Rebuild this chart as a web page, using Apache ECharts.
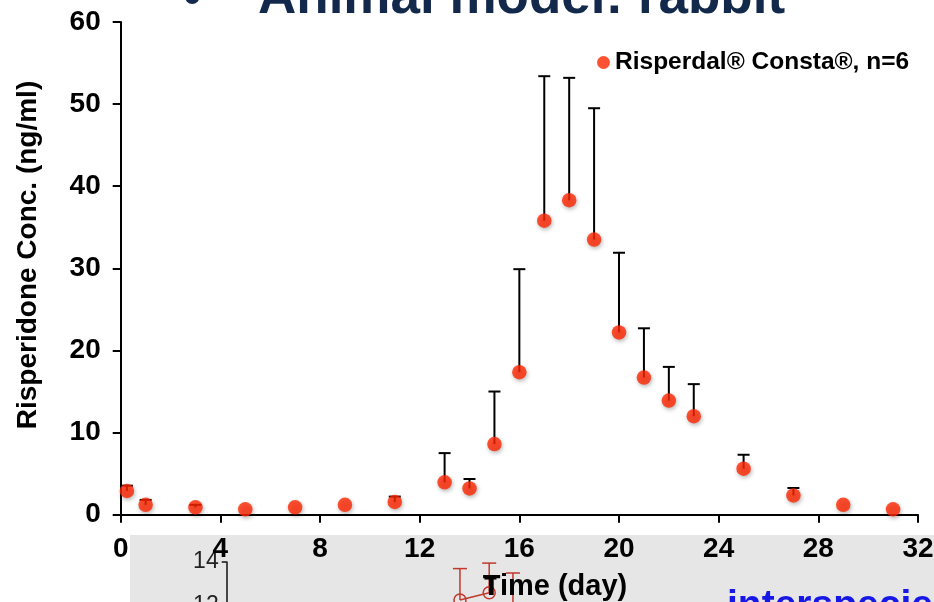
<!DOCTYPE html>
<html><head><meta charset="utf-8">
<script src="https://cdn.jsdelivr.net/npm/echarts@6/dist/echarts.min.js"></script>
<style>html,body{margin:0;padding:0;background:#fff}#c{width:934px;height:602px}</style>
</head><body><div id="c"></div>
<script>
// Main chart data: Risperdal Consta, rabbit, n=6
const seriesName = 'Risperdal® Consta®, n=6';
const days     = [0.25, 1, 3, 5, 7, 9, 11, 13, 14, 15, 16, 17, 18, 19, 20, 21, 22, 23, 25, 27, 29, 31];
const meanConc = [2.9, 1.2, 0.9, 0.65, 0.9, 1.2, 1.55, 3.95, 3.2, 8.6, 17.35, 35.8, 38.3, 33.5, 22.2, 16.7, 13.9, 12.0, 5.6, 2.35, 1.2, 0.65];
const sdConc   = [0.63, 0.6, 0.3, 0, 0, 0, 0.65, 3.55, 1.15, 6.4, 12.55, 17.6, 14.9, 16.0, 9.7, 6.0, 4.1, 3.9, 1.7, 0.9, 0, 0];
const xTicks = [0, 4, 8, 12, 16, 20, 24, 28, 32];
const yTicks = [0, 10, 20, 30, 40, 50, 60];

// Fragment of an overlapping inset chart at the bottom
const insetX     = [9.33, 10.5, 11.45];
const insetMean  = [12.27, 12.6, 11.6];
const insetUpper = [13.7, 13.95, 13.5];
const insetBlackX = [10.55];
const insetBlackMean = [12.5];
const insetBlackUpper = [13.27];

const chart = echarts.init(document.getElementById('c'), null, {renderer: 'canvas'});
const FONT = 'Liberation Sans, Arial, Helvetica, sans-serif';

function errItem(color, lw, hw) {
  return function (params, api) {
    const x = api.value(0), m = api.value(1), u = api.value(2);
    if (!(u > m)) return {type: 'group', children: []};
    const p0 = api.coord([x, m]), p1 = api.coord([x, u]);
    return {type: 'group', children: [
      {type: 'line', shape: {x1: p0[0], y1: p0[1], x2: p1[0], y2: p1[1]}, style: {stroke: color, lineWidth: lw}},
      {type: 'line', shape: {x1: p1[0] - hw, y1: p1[1], x2: p1[0] + hw, y2: p1[1]}, style: {stroke: color, lineWidth: lw}}
    ]};
  };
}

const option = {
  animation: false,
  backgroundColor: '#fff',
  textStyle: {fontFamily: FONT},
  grid: [
    {left: 120.7, right: 16, top: 22, bottom: 87.3, containLabel: false, outerBoundsMode: 'none'},
    {left: 226.7, top: 562, width: 700, height: 88, containLabel: false, outerBoundsMode: 'none'}
  ],
  legend: {
    data: [seriesName],
    left: 592, top: 45,
    icon: 'circle', itemWidth: 13, itemHeight: 13,
    textStyle: {fontSize: 24.5, fontWeight: 'bold', color: '#000', fontFamily: FONT}
  },
  xAxis: [
    {
      gridIndex: 0, type: 'value', min: xTicks[0], max: xTicks[xTicks.length - 1], interval: 4,
      axisLine: {onZero: false, lineStyle: {color: '#000', width: 2}},
      axisTick: {length: 8, lineStyle: {color: '#000', width: 2}},
      axisLabel: {fontSize: 28, fontWeight: 'bold', color: '#000', margin: 21, fontFamily: FONT},
      splitLine: {show: false}, z: 3
    },
    {
      gridIndex: 1, type: 'value', min: 0, max: 28, show: false
    }
  ],
  yAxis: [
    {
      gridIndex: 0, type: 'value', min: yTicks[0], max: yTicks[yTicks.length - 1], interval: 10,
      axisLine: {show: true, lineStyle: {color: '#000', width: 2}},
      axisTick: {show: true, length: 8, lineStyle: {color: '#000', width: 2}},
      axisLabel: {fontSize: 28, fontWeight: 'bold', color: '#000', margin: 20, fontFamily: FONT},
      splitLine: {show: false}, z: 3
    },
    {
      gridIndex: 1, type: 'value', min: 10, max: 14, interval: 2,
      axisLine: {show: true, lineStyle: {color: '#111', width: 1.5}},
      axisTick: {show: true, inside: false, length: 5, lineStyle: {color: '#111', width: 1.5}},
      axisLabel: {fontSize: 23, color: '#222', margin: 8, fontFamily: FONT},
      splitLine: {show: false}, z: 1
    }
  ],
  graphic: [
    {type: 'rect', z: -10, shape: {x: 130, y: 535, width: 804, height: 67}, style: {fill: '#e6e6e6'}},
    {type: 'text', z: 10, style: {text: '•', x: 183, y: 26, align: 'left', verticalAlign: 'bottom', fontSize: 53, fontWeight: 'bold', fill: '#13294b', fontFamily: FONT}},
    {type: 'text', z: 10, style: {text: 'Animal model: rabbit', x: 258, y: 25, align: 'left', verticalAlign: 'bottom', fontSize: 53, fontWeight: 'bold', fill: '#13294b', fontFamily: FONT}},
    {type: 'text', z: 10, rotation: Math.PI / 2, x: 28, y: 255, style: {text: 'Risperidone Conc. (ng/ml)', x: 0, y: 0, align: 'center', verticalAlign: 'middle', fontSize: 28, fontWeight: 'bold', fill: '#000', fontFamily: FONT}},
    {type: 'text', z: 10, style: {text: 'Time (day)', x: 555, y: 587, align: 'center', verticalAlign: 'middle', fontSize: 29, fontWeight: 'bold', fill: '#000', fontFamily: FONT}},
    {type: 'text', z: 10, style: {text: 'interspecies', x: 727, y: 587, align: 'left', verticalAlign: 'top', fontSize: 39, fontWeight: 'bold', fill: '#1818e6', fontFamily: FONT}}
  ],
  series: [
    {
      type: 'custom', name: 'sd', xAxisIndex: 0, yAxisIndex: 0, z: 2,
      renderItem: errItem('#000', 2, 6),
      data: days.map((d, i) => [d, meanConc[i], meanConc[i] + sdConc[i]]),
      encode: {x: 0, y: [1, 2]}, clip: false, silent: true
    },
    {
      type: 'scatter', name: seriesName, xAxisIndex: 0, yAxisIndex: 0, z: 4,
      symbol: 'circle', symbolSize: 14.5, clip: false,
      itemStyle: {color: '#ff2600', shadowBlur: 4, shadowColor: 'rgba(0,0,0,0.35)', shadowOffsetX: 1, shadowOffsetY: 2},
      data: days.map((d, i) => [d, meanConc[i]])
    },
    {
      type: 'custom', name: 'inset sd', xAxisIndex: 1, yAxisIndex: 1, z: 1,
      renderItem: errItem('#c0392b', 1.5, 7),
      data: insetX.map((d, i) => [d, insetMean[i], insetUpper[i]]),
      encode: {x: 0, y: [1, 2]}, silent: true
    },
    {
      type: 'custom', name: 'inset sd black', xAxisIndex: 1, yAxisIndex: 1, z: 1,
      renderItem: errItem('#000', 3, 6),
      data: insetBlackX.map((d, i) => [d, insetBlackMean[i], insetBlackUpper[i]]),
      encode: {x: 0, y: [1, 2]}, silent: true
    },
    {
      type: 'line', name: 'inset', xAxisIndex: 1, yAxisIndex: 1, z: 1,
      symbol: 'circle', symbolSize: 12,
      lineStyle: {color: '#c0392b', width: 1.5},
      itemStyle: {color: 'rgba(0,0,0,0)', borderColor: '#c0392b', borderWidth: 1.5},
      data: insetX.slice(0, 2).map((d, i) => [d, insetMean[i]]),
      silent: true
    }
  ]
};
chart.setOption(option);
</script>
</body></html>
